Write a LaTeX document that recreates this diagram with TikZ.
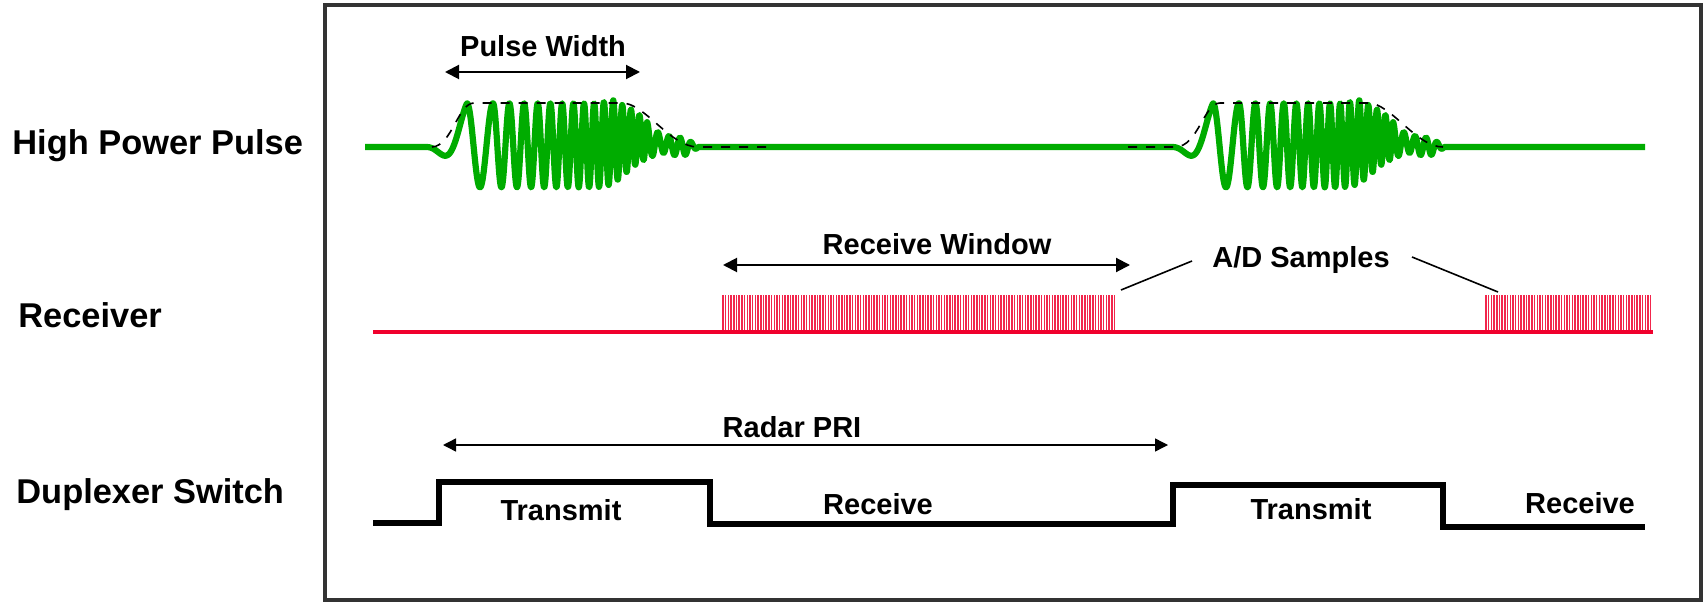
\documentclass[tikz,border=0pt]{standalone}
\usepackage{fontspec}
\setmainfont{Liberation Sans}
\usetikzlibrary{arrows.meta}
\definecolor{pulsegreen}{RGB}{0,172,0}
\definecolor{rxred}{RGB}{240,0,45}

\begin{document}
\begin{tikzpicture}[x=0.5pt,y=-0.5pt,
  declare function={
    ph(\d)=(\d<0) ? (\d/54) : ((\d<26) ? (\d/26) : ((\d<180) ? (1+0.0575*(\d-26)+0.000217*(\d-26)*(\d-26)) : (15+(\d-180)/11)));
    mainamp(\d)=(\d<-45) ? 0 : min(42*((\d+45)/45)*((\d+45)/45), 42, 42-(\d-146)*0.7);
    ringamp(\d)=(\d<175) ? 0 : min(9, (232-\d)*0.6);
    amp(\d)=max(0, mainamp(\d), ringamp(\d));
    lift(\d)=max(0, 8-abs(\d-170)*0.2)+0.04*amp(\d);
  },
  rowlabel/.style={font=\fontsize{17.2}{20}\selectfont\bfseries, inner sep=0, anchor=base west},
  tag/.style={font=\fontsize{14.5}{17}\selectfont\bfseries, inner sep=0, anchor=base},
  frame/.style={draw=black!80, line width=1.6pt},
  pulse/.style={draw=pulsegreen, line width=3.1pt, line join=round},
  envelope/.style={draw=black, line width=0.8pt, dash pattern=on 4.5pt off 4.5pt},
  rxline/.style={draw=rxred, line width=2.2pt},
  sample/.style={draw=rxred!85, line width=0.75pt},
  switchline/.style={draw=black, line width=2.6pt, line join=miter},
  span/.style={draw=black, line width=1pt, {Triangle[length=7pt,width=7pt]}-{Triangle[length=7pt,width=7pt]}},
  pri/.style={draw=black, line width=0.7pt, {Triangle[length=6.5pt,width=6.5pt]}-{Triangle[length=6.5pt,width=6.5pt]}},
  leader/.style={draw=black, line width=0.8pt}
]
\useasboundingbox (0,0) rectangle (1706,604);
\draw[frame] (325,5) rectangle (1701,600);

% row labels
\node[rowlabel] (hpp) at (12,155) {High Power Pulse};
\node[rowlabel] (rcv) at (18,327) {Receiver};
\node[rowlabel] (dup) at (16,503) {Duplexer Switch};

% transmitted pulses (chirped bursts on the green trace)
\draw[pulse] (365,147)
  -- plot[variable=\d, domain=-55:240, samples=700] ({467+\d}, {147-lift(\d)-amp(\d)*cos(360*ph(\d))})
  -- plot[variable=\d, domain=-55:240, samples=700] ({1213+\d}, {147-lift(\d)-amp(\d)*cos(360*ph(\d))})
  -- (1645,147);

% pulse envelopes
\draw[envelope] (432,147) .. controls (452,146) and (458,103) .. (474,103) -- (622,103)
  .. controls (645,103) and (670,147) .. (698,147) -- (772,147);
\draw[envelope] (1128,147) -- (1176,147) .. controls (1198,146) and (1204,103) .. (1220,103) -- (1368,103)
  .. controls (1391,103) and (1416,147) .. (1443,147);

% pulse width
\coordinate (pwL) at (445,72);
\coordinate (pwR) at (640,72);
\draw[span] (pwL) -- (pwR);
\node[tag] (pw) at (543,57) {Pulse Width};

% receiver samples
\foreach \i in {0,...,145} \draw[sample] ({723+\i*2.7},295) -- ({723+\i*2.7},332);
\foreach \i in {0,...,61} \draw[sample] ({1486+\i*2.7},295) -- ({1486+\i*2.7},332);
\coordinate (rxA) at (373,332);
\coordinate (rxB) at (1653,332);
\draw[rxline] (rxA) -- (rxB);

% receive window
\coordinate (rwL) at (723,265);
\coordinate (rwR) at (1130,265);
\draw[span] (rwL) -- (rwR);
\node[tag] (rw) at (937,255) {Receive Window};

% A/D samples callout
\node[tag] (ad) at (1301,267) {A/D Samples};
\coordinate (adL1) at (1192,261);
\coordinate (adL2) at (1121,290);
\coordinate (adR1) at (1412,257);
\coordinate (adR2) at (1498,292);
\draw[leader] (adL1) -- (adL2);
\draw[leader] (adR1) -- (adR2);

% radar PRI
\coordinate (priL) at (443,445);
\coordinate (priR) at (1168,445);
\draw[pri] (priL) -- (priR);
\node[tag] (prit) at (792,437) {Radar PRI};

% duplexer switch state
\draw[switchline] (373,523) -- (439,523) -- (439,482) -- (710,482) -- (710,524)
  -- (1173,524) -- (1173,485) -- (1443,485) -- (1443,527) -- (1645,527);
\node[tag] (tx1) at (561,520) {Transmit};
\node[tag] (rx1) at (878,514) {Receive};
\node[tag] (tx2) at (1311,519) {Transmit};
\node[tag] (rx2) at (1580,513) {Receive};
\end{tikzpicture}
\end{document}
